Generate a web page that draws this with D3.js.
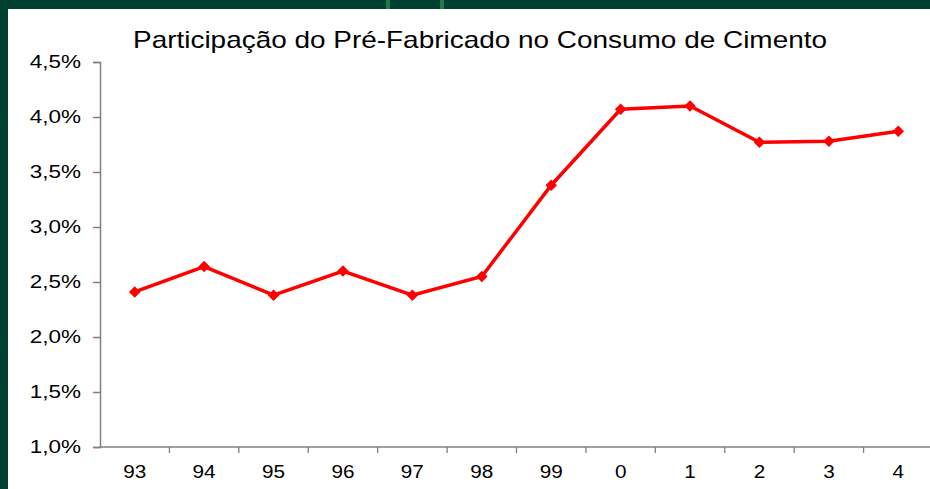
<!DOCTYPE html>
<html>
<head>
<meta charset="utf-8">
<script src="https://cdn.jsdelivr.net/npm/d3@7"></script>
<style>
    body { margin: 0; background: #00402f; }
    svg { display: block; }
</style>
</head>
<body>
<div id="chart"></div>
<script>
const years = ['93', '94', '95', '96', '97', '98', '99', '0', '1', '2', '3', '4'];
const shares = [2.41, 2.64, 2.38, 2.60, 2.38, 2.55, 3.38, 4.07, 4.10, 3.77, 3.78, 3.87];
const yTicks = [1.0, 1.5, 2.0, 2.5, 3.0, 3.5, 4.0, 4.5];

const width = 930;
const height = 489;
const margin = { top: 62, right: -3, bottom: 42, left: 100 };

const svg = d3.select('#chart')
    .append('svg')
    .attr('width', width)
    .attr('height', height);

// green backdrop with white panel
svg.append('rect')
    .attr('width', width)
    .attr('height', height)
    .attr('fill', '#00402f');

svg.append('rect')
    .attr('x', 386).attr('y', 0)
    .attr('width', 4).attr('height', 9)
    .attr('fill', '#1f7a4a');
svg.append('rect')
    .attr('x', 440).attr('y', 0)
    .attr('width', 4).attr('height', 9)
    .attr('fill', '#1f7a4a');

svg.append('rect')
    .attr('x', 8).attr('y', 9)
    .attr('width', width - 8)
    .attr('height', height - 9)
    .attr('fill', '#fff');

const x = d3.scaleBand()
    .domain(years)
    .range([margin.left, width - margin.right]);

const y = d3.scaleLinear()
    .domain([1.0, 4.5])
    .range([height - margin.bottom, margin.top]);

const fmt = (d) => d.toFixed(1).replace('.', ',') + '%';

const yAxis = svg.append('g')
    .attr('transform', `translate(${margin.left}, 0)`)
    .call(d3.axisLeft(y).tickValues(yTicks).tickFormat(fmt).tickSize(7).tickPadding(12));

const xAxis = svg.append('g')
    .attr('transform', `translate(0, ${height - margin.bottom})`)
    .call(d3.axisBottom(x).tickSize(0).tickPadding(18));

// labels in the original look slightly stretched sideways
function styleLabels(axis, size, stretch) {
    axis.attr('font-family', 'Liberation Sans, Arial, sans-serif')
        .attr('font-size', size);
    axis.selectAll('.tick text')
        .attr('fill', '#000')
        .each(function () {
            const w = this.getComputedTextLength();
            d3.select(this)
                .attr('textLength', w * stretch)
                .attr('lengthAdjust', 'spacingAndGlyphs');
        });
}
styleLabels(yAxis, 18, 1.25);
styleLabels(xAxis, 18, 1.15);

// band boundary ticks like the original
xAxis.selectAll('.bound')
    .data(years.slice(1))
    .enter()
    .append('line')
    .attr('class', 'bound')
    .attr('x1', (d) => x(d))
    .attr('x2', (d) => x(d))
    .attr('y1', 0)
    .attr('y2', 6)
    .attr('stroke', '#808080')
    .attr('stroke-width', 1.3);

svg.selectAll('.domain, .tick line')
    .attr('stroke', '#808080')
    .attr('stroke-width', 1.5);
xAxis.select('.domain').attr('d', `M${margin.left},0H${width}`);

const line = d3.line()
    .x((d, i) => x(years[i]) + x.bandwidth() / 2)
    .y((d) => y(d));

svg.append('path')
    .datum(shares)
    .attr('d', line)
    .attr('fill', 'none')
    .attr('stroke', '#ff0000')
    .attr('stroke-width', 3.5);

svg.selectAll('.marker')
    .data(shares)
    .enter()
    .append('path')
    .attr('class', 'marker')
    .attr('d', d3.symbol(d3.symbolDiamond2, 85))
    .attr('transform', (d, i) => `translate(${x(years[i]) + x.bandwidth() / 2}, ${y(d)})`)
    .attr('fill', '#ff0000');

svg.append('text')
    .attr('x', 480)
    .attr('y', 48)
    .attr('text-anchor', 'middle')
    .attr('font-family', 'Liberation Sans, Arial, sans-serif')
    .attr('font-size', 24)
    .attr('textLength', 694)
    .attr('lengthAdjust', 'spacingAndGlyphs')
    .text('Participação do Pré-Fabricado no Consumo de Cimento');
</script>
</body>
</html>
